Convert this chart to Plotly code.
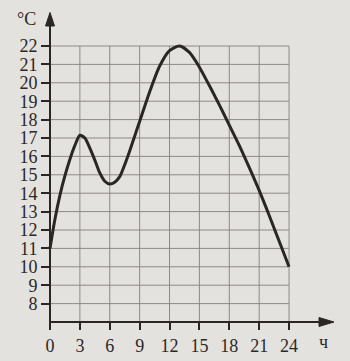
import plotly.graph_objects as go

# ---- data ----
hours = [0, 0.5, 1, 1.5, 2, 2.5, 3, 3.5, 4, 4.5, 5, 5.5, 6, 6.5, 7, 7.5, 8, 8.5, 9,
         10, 11, 12, 13, 14, 15, 16, 17, 18, 19, 20, 21, 22, 23, 24]
temps = [11.0, 12.6, 13.9, 14.95, 15.85, 16.6, 17.15, 17.0, 16.45, 15.8, 15.1, 14.65, 14.5, 14.6, 14.9, 15.55, 16.3, 17.1, 17.9,
         19.5, 20.9, 21.75, 22.0, 21.65, 20.85, 19.85, 18.8, 17.7, 16.6, 15.4, 14.15, 12.8, 11.4, 10.0]
x_ticks = [0, 3, 6, 9, 12, 15, 18, 21, 24]
y_ticks = list(range(8, 23))
x_label = "ч"
y_label = "°C"

# ---- pixel geometry ----
W, H = 350, 361
px0, px_per_h = 50, 9.96        # pixel of hour 0, pixels per hour
py22, py_per_deg = 46, 18.4     # pixel of 22 °C, pixels per degree

def xv(p):
    return (p - px0) / px_per_h

def yv(p):
    return 22 - (p - py22) / py_per_deg

xr = [xv(0), xv(W)]
yr = [yv(H), yv(0)]
y_axis_val = 7

ink = "#2a2624"
grid = "#8d8985"
bg = "#e4e2df"
font = dict(family="Liberation Serif", size=18, color="#2b2826")

fig = go.Figure()
fig.add_trace(go.Scatter(x=hours, y=temps, mode="lines",
                         line=dict(color=ink, width=3, shape="spline", smoothing=0.7),
                         hoverinfo="skip", showlegend=False))

shapes = []
for t in y_ticks:
    shapes.append(dict(type="line", xref="x", yref="y", x0=0, x1=x_ticks[-1], y0=t, y1=t,
                       line=dict(color=grid, width=1), layer="below"))
for h in x_ticks[1:]:
    shapes.append(dict(type="line", xref="x", yref="y", x0=h, x1=h, y0=y_axis_val, y1=y_ticks[-1],
                       line=dict(color=grid, width=1), layer="below"))
# axes
x_tip, x_base = xv(334), xv(319)
y_tip, y_base = yv(12.5), yv(26)
shapes.append(dict(type="line", xref="x", yref="y", x0=0, x1=x_base, y0=y_axis_val, y1=y_axis_val,
                   line=dict(color=ink, width=2)))
shapes.append(dict(type="line", xref="x", yref="y", x0=0, x1=0, y0=yv(326), y1=y_base,
                   line=dict(color=ink, width=2)))
hw = 4.5 / px_per_h
shapes.append(dict(type="path", xref="x", yref="y",
                   path=f"M {-hw} {y_base} L 0 {y_tip} L {hw} {y_base} Z",
                   fillcolor=ink, line=dict(color=ink, width=1)))
hh = 4.5 / py_per_deg
shapes.append(dict(type="path", xref="x", yref="y",
                   path=f"M {x_base} {y_axis_val - hh} L {x_tip} {y_axis_val} L {x_base} {y_axis_val + hh} Z",
                   fillcolor=ink, line=dict(color=ink, width=1)))

annotations = [
    dict(x=xv(26), y=yv(19), xref="x", yref="y", text=y_label, showarrow=False, font=font),
    dict(x=xv(323), y=yv(342), xref="x", yref="y", text=x_label, showarrow=False, font=font),
]

fig.update_layout(
    width=W, height=H, margin=dict(l=0, r=0, t=0, b=0),
    paper_bgcolor=bg, plot_bgcolor=bg,
    shapes=shapes, annotations=annotations, showlegend=False,
    xaxis=dict(range=xr, anchor="free", position=(y_axis_val - yr[0]) / (yr[1] - yr[0]),
               tickvals=x_ticks, ticktext=[str(v) for v in x_ticks],
               ticks="outside", ticklen=7, tickwidth=2, tickcolor=ink,
               showgrid=False, zeroline=False, showline=False, tickfont=font, fixedrange=True),
    yaxis=dict(range=yr, anchor="free", position=(0 - xr[0]) / (xr[1] - xr[0]),
               tickvals=y_ticks, ticktext=[str(v) for v in y_ticks],
               ticks="outside", ticklen=9, tickwidth=2, tickcolor=ink,
               showgrid=False, zeroline=False, showline=False, tickfont=font, fixedrange=True),
)

fig.write_html("out.html")
